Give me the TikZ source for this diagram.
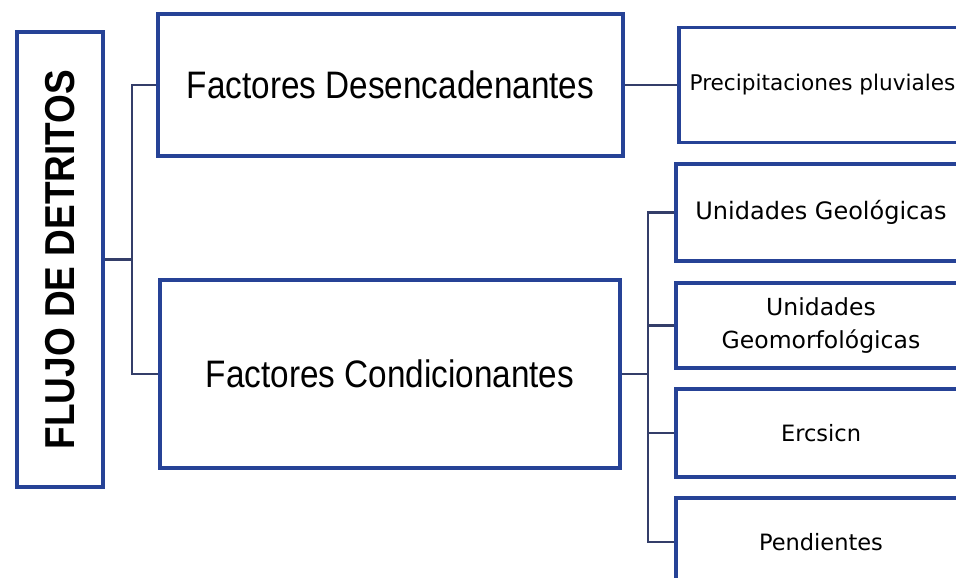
\documentclass[tikz,border=0pt]{standalone}
\usepackage{fontspec}
\usepackage{graphicx}
\setmainfont{Liberation Sans}
\newfontfamily\smallf{DejaVu Sans}
\definecolor{boxblue}{RGB}{38,66,150}
\definecolor{linecol}{RGB}{52,62,105}
\tikzset{
  box/.style={draw=boxblue, line width=3.4pt, fill=white, inner sep=0pt, align=center},
  bigtext/.style={font=\fontsize{33.3}{40}\selectfont},
  smalltext/.style={font=\smallf\fontsize{22.5}{33}\selectfont},
  conn/.style={draw=linecol, line width=2.4pt}
}
\begin{document}
\begin{tikzpicture}[x=1pt,y=-1pt]
\useasboundingbox (0,0) rectangle (956,578);
\clip (0,0) rectangle (956,578);
\fill[white] (0,0) rectangle (956,578);
% left column
\node[box, minimum width=86, minimum height=455] (flujo) at (60,259.5)
  {\rotatebox{90}{\scalebox{1}[1.13]{\fontsize{37}{40}\selectfont\bfseries FLUJO DE DETRITOS}}};
% middle column
\node[box, bigtext, minimum width=465, minimum height=142] (desenc) at (390.5,85)
  {\scalebox{1}[1.15]{Factores Desencadenantes}};
\node[box, bigtext, minimum width=460, minimum height=188] (condic) at (390,374)
  {\scalebox{1}[1.15]{Factores Condicionantes}};
% right column
\node[box, smalltext, font=\smallf\fontsize{21.6}{26}\selectfont, minimum width=287, minimum height=115] (precip) at (822.5,85)
  {Precipitaciones pluviales};
\node[box, smalltext, font=\smallf\fontsize{24}{30}\selectfont, minimum width=290, minimum height=97] (geol) at (821,212.5)
  {Unidades Geológicas};
\node[box, smalltext, font=\smallf\fontsize{23.5}{33}\selectfont, minimum width=290, minimum height=85] (geomorf) at (821,325.5)
  {Unidades\\Geomorfológicas};
\node[box, smalltext, minimum width=290, minimum height=88] (erosion) at (821,433)
  {Ercsicn};
\node[box, smalltext, minimum width=290, minimum height=88] (pend) at (821,542)
  {Pendientes};
% connectors
\coordinate (b1) at (132,259.5);
\coordinate (b2) at (648,374);
\draw[conn] (flujo.east) -- (b1);
\draw[conn] (desenc.west) -| (b1) |- (condic.west);
\draw[conn] (desenc.east) -- (precip.west);
\draw[conn] (condic.east) -- (b2);
\draw[conn] (geol.west) -| (b2) |- (pend.west);
\draw[conn] (b2 |- geomorf.west) -- (geomorf.west);
\draw[conn] (b2 |- erosion.west) -- (erosion.west);
\end{tikzpicture}
\end{document}
